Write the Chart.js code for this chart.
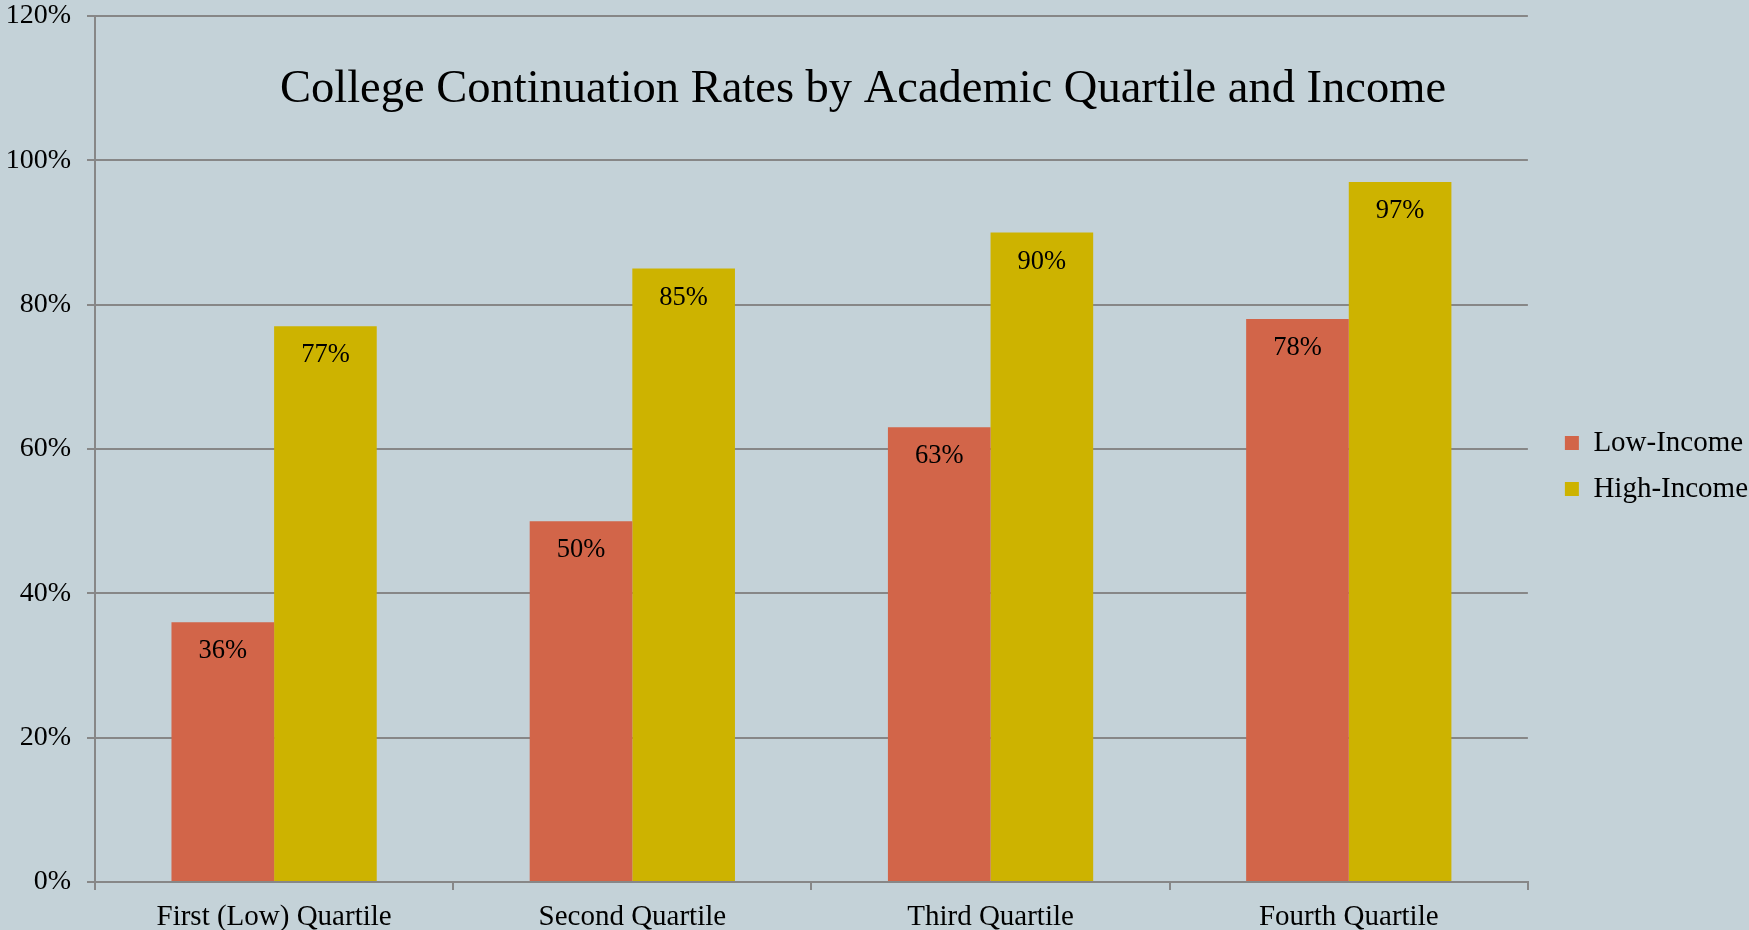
<!DOCTYPE html>
<html>
<head>
<meta charset="utf-8">
<script src="https://cdn.jsdelivr.net/npm/chart.js@4"></script>
<style>
    html, body { margin: 0; padding: 0; background: #c4d2d8; }
    #wrap { width: 1749px; height: 930px; position: relative; }
</style>
</head>
<body>
<div id="wrap"><canvas id="chart"></canvas></div>
<script>
const chartTitle = 'College Continuation Rates by Academic Quartile and Income';
const quartiles = ['First (Low) Quartile', 'Second Quartile', 'Third Quartile', 'Fourth Quartile'];
const lowIncome = [36, 50, 63, 78];
const highIncome = [77, 85, 90, 97];
const yTicks = [0, 20, 40, 60, 80, 100, 120];

const FONT = "'Liberation Serif', 'Times New Roman', serif";

// Title sits inside the plot area, so draw it ourselves
const titlePlugin = {
    id: 'insideTitle',
    afterDraw(chart) {
        const ctx = chart.ctx;
        ctx.save();
        ctx.font = `46.5px ${FONT}`;
        ctx.fillStyle = '#000';
        ctx.textAlign = 'center';
        ctx.textBaseline = 'alphabetic';
        ctx.fillText(chartTitle, 863, 102);
        ctx.restore();
    }
};

// Value labels near the top of each bar
const valueLabels = {
    id: 'valueLabels',
    afterDatasetsDraw(chart) {
        const ctx = chart.ctx;
        ctx.save();
        ctx.font = `26.5px ${FONT}`;
        ctx.fillStyle = '#000';
        ctx.textAlign = 'center';
        ctx.textBaseline = 'alphabetic';
        chart.data.datasets.forEach((ds, i) => {
            chart.getDatasetMeta(i).data.forEach((bar, j) => {
                ctx.fillText(ds.data[j] + '%', bar.x, bar.y + 36);
            });
        });
        ctx.restore();
    }
};

const gridColor = '#878787';

new Chart(document.getElementById('chart'), {
    type: 'bar',
    data: {
        labels: quartiles,
        datasets: [
            {
                label: 'Low-Income',
                data: lowIncome,
                backgroundColor: '#d26549',
                categoryPercentage: 0.573,
                barPercentage: 1.0
            },
            {
                label: 'High-Income',
                data: highIncome,
                backgroundColor: '#cdb300',
                categoryPercentage: 0.573,
                barPercentage: 1.0
            }
        ]
    },
    options: {
        responsive: true,
        maintainAspectRatio: false,
        animation: false,
        layout: { padding: { top: 2, right: -9, bottom: 0, left: 0 } },
        plugins: {
            title: { display: false },
            tooltip: { enabled: false },
            legend: {
                position: 'right',
                labels: {
                    font: { family: FONT, size: 29 },
                    color: '#000',
                    boxWidth: 14,
                    boxHeight: 14,
                    padding: 17
                }
            }
        },
        scales: {
            x: {
                afterFit: (s) => { s.height = 48; s.paddingBottom = 0; },
                grid: {
                    display: true,
                    offset: true,
                    drawOnChartArea: false,
                    drawTicks: true,
                    tickLength: 8,
                    color: gridColor,
                    lineWidth: 2
                },
                border: { display: true, color: gridColor, width: 2 },
                ticks: {
                    font: { family: FONT, size: 29 },
                    color: '#000',
                    padding: 10,
                    maxRotation: 0
                }
            },
            y: {
                min: 0,
                max: 120,
                afterBuildTicks: (s) => { s.ticks = yTicks.map(v => ({ value: v })); },
                afterFit: (s) => { s.width = 95; s.paddingTop = 16; s.paddingBottom = 0; },
                grid: {
                    color: gridColor,
                    lineWidth: 2,
                    tickLength: 8
                },
                border: { display: true, color: gridColor, width: 2 },
                ticks: {
                    font: { family: FONT, size: 28 },
                    color: '#000',
                    padding: 16,
                    callback: (v) => v + '%'
                }
            },
            // spacer between plot and legend
            gap: {
                position: 'right',
                display: true,
                grid: { display: false },
                border: { display: false },
                ticks: { display: false },
                afterFit: (s) => { s.width = 20; }
            }
        }
    },
    plugins: [titlePlugin, valueLabels]
});
</script>
</body>
</html>
